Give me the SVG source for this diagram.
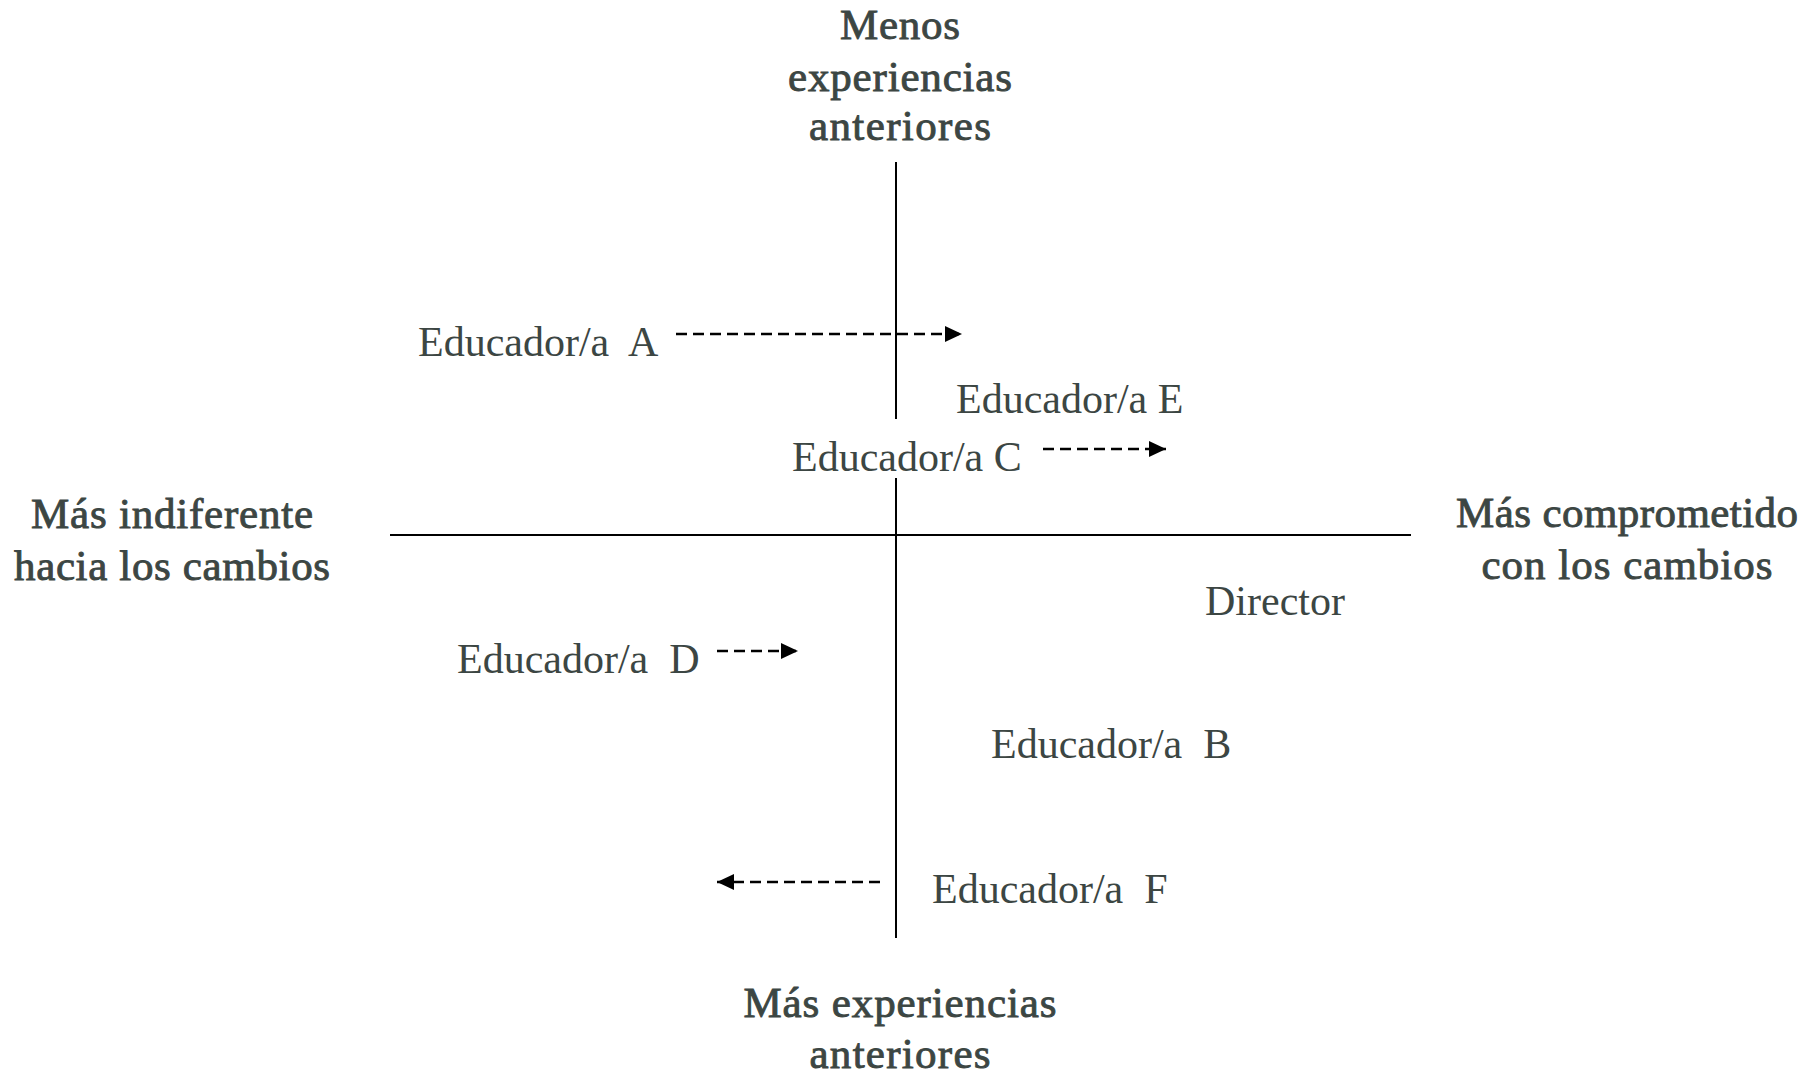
<svg xmlns="http://www.w3.org/2000/svg" width="1814" height="1074" viewBox="0 0 1814 1074">
  <style>
    .axis { font-family: "Liberation Serif", "Times New Roman", serif; font-size: 43px; fill: #3c4643; stroke: #3c4643; stroke-width: 0.9px; text-anchor: middle; }
    .lbl { font-family: "Liberation Serif", "Times New Roman", serif; font-size: 42px; fill: #3c4643; }
    .axisline { stroke: #000; stroke-width: 2; fill: none; }
    .dash { stroke: #000; stroke-width: 2.6; stroke-dasharray: 11 6; fill: none; marker-end: url(#arrow); }
  </style>
  <defs>
    <marker id="arrow" markerUnits="userSpaceOnUse" markerWidth="17" markerHeight="16" refX="17" refY="8" orient="auto">
      <path d="M0,0 L17,8 L0,16 Z" fill="#000"/>
    </marker>
  </defs>
  <rect width="1814" height="1074" fill="#fff"/>

  <g id="axes">
    <line class="axisline" x1="896" y1="162" x2="896" y2="419"/>
    <line class="axisline" x1="896" y1="478" x2="896" y2="938"/>
    <line class="axisline" x1="390" y1="535" x2="1411" y2="535"/>
  </g>

  <g id="axis-top">
    <text class="axis" x="900" y="39" textLength="120" lengthAdjust="spacing">Menos</text>
    <text class="axis" x="900" y="91" textLength="224" lengthAdjust="spacing">experiencias</text>
    <text class="axis" x="900" y="140" textLength="182" lengthAdjust="spacing">anteriores</text>
  </g>
  <g id="axis-left">
    <text class="axis" x="172" y="528" textLength="282" lengthAdjust="spacing">Más indiferente</text>
    <text class="axis" x="172" y="580" textLength="316" lengthAdjust="spacing">hacia los cambios</text>
  </g>
  <g id="axis-right">
    <text class="axis" x="1627" y="527" textLength="342" lengthAdjust="spacing">Más comprometido</text>
    <text class="axis" x="1627" y="579" textLength="291" lengthAdjust="spacing">con los cambios</text>
  </g>
  <g id="axis-bottom">
    <text class="axis" x="900" y="1017" textLength="313" lengthAdjust="spacing">Más experiencias</text>
    <text class="axis" x="900" y="1068" textLength="181" lengthAdjust="spacing">anteriores</text>
  </g>

  <g id="educador-a"><text class="lbl" x="418" y="356" xml:space="preserve">Educador/a  A</text></g>
  <g id="educador-e"><text class="lbl" x="956" y="413">Educador/a E</text></g>
  <g id="educador-c"><text class="lbl" x="792" y="471">Educador/a C</text></g>
  <g id="director"><text class="lbl" x="1205" y="615">Director</text></g>
  <g id="educador-d"><text class="lbl" x="457" y="673" xml:space="preserve">Educador/a  D</text></g>
  <g id="educador-b"><text class="lbl" x="991" y="758" xml:space="preserve">Educador/a  B</text></g>
  <g id="educador-f"><text class="lbl" x="932" y="903" xml:space="preserve">Educador/a  F</text></g>

  <g id="connectors">
    <line class="dash" x1="676" y1="334" x2="962" y2="334"/>
    <line class="dash" x1="1043" y1="449" x2="1166" y2="449"/>
    <line class="dash" x1="717" y1="651" x2="798" y2="651"/>
    <line class="dash" x1="880" y1="882" x2="717" y2="882"/>
  </g>
</svg>
